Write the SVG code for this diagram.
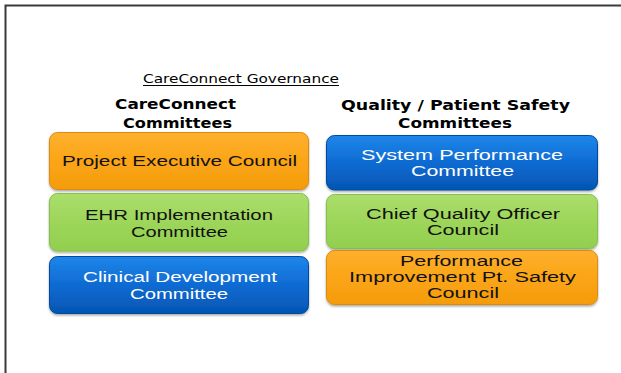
<svg xmlns="http://www.w3.org/2000/svg" width="621" height="373" viewBox="0 0 621 373">
<defs>
<linearGradient id="gOrange" x1="0" y1="0" x2="0" y2="1">
<stop offset="0" stop-color="#FDB02E"/>
<stop offset="0.5" stop-color="#FBA516"/>
<stop offset="1" stop-color="#F49C0C"/>
</linearGradient>
<linearGradient id="gGreen" x1="0" y1="0" x2="0" y2="1">
<stop offset="0" stop-color="#ABDE6C"/>
<stop offset="0.5" stop-color="#9DD65A"/>
<stop offset="1" stop-color="#92CF4E"/>
</linearGradient>
<linearGradient id="gBlue" x1="0" y1="0" x2="0" y2="1">
<stop offset="0" stop-color="#1E86EA"/>
<stop offset="0.5" stop-color="#0F6BD2"/>
<stop offset="1" stop-color="#0455B3"/>
</linearGradient>
<filter id="sh" x="-5%" y="-10%" width="110%" height="130%">
<feDropShadow dx="0" dy="1.5" stdDeviation="0.8" flood-color="#000" flood-opacity="0.35"/>
</filter>
</defs>
<style>
.title{font-family:"DejaVu Sans","Liberation Sans",sans-serif;font-size:12.5px;fill:#000}
.head{font-family:"DejaVu Sans","Liberation Sans",sans-serif;font-size:14px;font-weight:bold;fill:#000}
.lbl{font-family:"Liberation Sans",Arial,sans-serif;font-size:15.5px;fill:#111}
.lblw{font-family:"Liberation Sans",Arial,sans-serif;font-size:15.5px;fill:#fff}
.orange{fill:url(#gOrange);stroke:#DE8A08;stroke-width:1}
.green{fill:url(#gGreen);stroke:#86BF48;stroke-width:1}
.blue{fill:url(#gBlue);stroke:#034A9E;stroke-width:1}
</style>
<rect x="0" y="0" width="621" height="373" fill="#fff"/>
<g id="frame">
<path d="M5.5 373 V5.5 H621" fill="none" stroke="#3a3a3a" stroke-width="2"/>
</g>
<g id="title">
<text class="title" x="143" y="83" textLength="196" lengthAdjust="spacingAndGlyphs">CareConnect Governance</text>
<line x1="143" y1="85.5" x2="339" y2="85.5" stroke="#000" stroke-width="1"/>
</g>
<g id="heading-left">
<text class="head" x="115" y="109" textLength="121" lengthAdjust="spacingAndGlyphs">CareConnect</text>
<text class="head" x="123" y="128" textLength="109" lengthAdjust="spacingAndGlyphs">Committees</text>
</g>
<g id="heading-right">
<text class="head" x="341" y="110" textLength="229" lengthAdjust="spacingAndGlyphs">Quality / Patient Safety</text>
<text class="head" x="398" y="128" textLength="114" lengthAdjust="spacingAndGlyphs">Committees</text>
</g>
<g id="connectors"></g>
<g id="project-executive-council">
<rect class="orange" x="49.5" y="132.5" width="259" height="57" rx="8" filter="url(#sh)"/>
<text class="lbl" x="62" y="166" textLength="235" lengthAdjust="spacingAndGlyphs">Project Executive Council</text>
</g>
<g id="ehr-implementation-committee">
<rect class="green" x="49.5" y="193.5" width="259" height="57.5" rx="8" filter="url(#sh)"/>
<text class="lbl" x="85" y="220" textLength="188" lengthAdjust="spacingAndGlyphs">EHR Implementation</text>
<text class="lbl" x="131" y="236.5" textLength="97" lengthAdjust="spacingAndGlyphs">Committee</text>
</g>
<g id="clinical-development-committee">
<rect class="blue" x="49.5" y="256.5" width="259" height="57" rx="8" filter="url(#sh)"/>
<text class="lblw" x="83" y="282" textLength="194" lengthAdjust="spacingAndGlyphs">Clinical Development</text>
<text class="lblw" x="130" y="298.5" textLength="98" lengthAdjust="spacingAndGlyphs">Committee</text>
</g>
<g id="system-performance-committee">
<rect class="blue" x="326.5" y="135.5" width="271" height="54.5" rx="8" filter="url(#sh)"/>
<text class="lblw" x="361" y="160" textLength="202" lengthAdjust="spacingAndGlyphs">System Performance</text>
<text class="lblw" x="411" y="176" textLength="103" lengthAdjust="spacingAndGlyphs">Committee</text>
</g>
<g id="chief-quality-officer-council">
<rect class="green" x="326.5" y="194.5" width="271" height="54" rx="8" filter="url(#sh)"/>
<text class="lbl" x="366" y="219" textLength="194" lengthAdjust="spacingAndGlyphs">Chief Quality Officer</text>
<text class="lbl" x="427" y="235" textLength="72" lengthAdjust="spacingAndGlyphs">Council</text>
</g>
<g id="performance-improvement-council">
<rect class="orange" x="326.5" y="250.5" width="271" height="54" rx="8" filter="url(#sh)"/>
<text class="lbl" x="400" y="266" textLength="123" lengthAdjust="spacingAndGlyphs">Performance</text>
<text class="lbl" x="349" y="282" textLength="227" lengthAdjust="spacingAndGlyphs">Improvement Pt. Safety</text>
<text class="lbl" x="427" y="297.5" textLength="72" lengthAdjust="spacingAndGlyphs">Council</text>
</g>
</svg>
